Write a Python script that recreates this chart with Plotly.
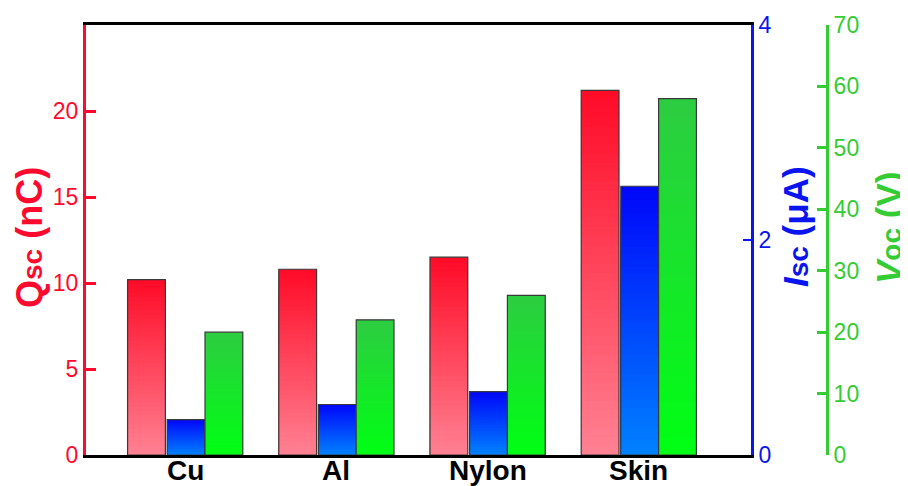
import plotly.graph_objects as go

categories = ["Cu", "Al", "Nylon", "Skin"]
qsc_nC = [10.2, 10.8, 11.5, 21.2]
isc_uA = [0.33, 0.47, 0.59, 2.50]
voc_V = [20.0, 22.0, 26.0, 58.0]

RED = "#FF0A2E"
BLUE = "#0A14F0"
GREEN = "#33CC33"
FONT = "Liberation Sans, Arial, sans-serif"

x = list(range(len(categories)))
W = 0.25
N = 40

series = [
    (qsc_nC, "y", -1.5 * W - 0.006, (255, 128, 145), (255, 12, 40)),
    (isc_uA, "y2", -0.5 * W + 0.006, (0, 128, 255), (0, 8, 250)),
    (voc_V, "y3", 0.5 * W + 0.006, (0, 255, 20), (45, 205, 65)),
]

fig = go.Figure()
for vals, ax, off, cb, ct in series:
    # nested bars: tallest first (top colour), shorter ones on top (towards bottom colour)
    for k in range(N):
        t = (N - 1 - k) / (N - 1)
        c = tuple(round(cb[i] + (ct[i] - cb[i]) * t) for i in range(3))
        fig.add_trace(go.Bar(
            x=x, y=[v * (N - k) / N for v in vals],
            yaxis=ax, width=W, offset=off,
            marker=dict(color="rgb(%d,%d,%d)" % c, line=dict(width=0)),
            showlegend=False, hoverinfo="skip"))
    fig.add_trace(go.Bar(
        x=x, y=vals, yaxis=ax, width=W, offset=off,
        marker=dict(color="rgba(0,0,0,0)", line=dict(color="#3a3a3a", width=1.2)),
        showlegend=False, hoverinfo="skip"))

# page offset compensation (body margin)
OFF = 8
PL, PT, PW, PH = 86 - OFF, 25 - OFF, 741, 430
FW, FH = 908 - OFF, 486 - OFF

def px(sx):
    return (sx - OFF - PL) / PW

def py(sy):
    return (PT + PH - (sy - OFF)) / PH

SUB = "<span style='font-size:28px'>%s</span>"
annotations = [
    dict(text="Q" + SUB % "sc" + " (nC)", x=px(30), y=py(237), xref="paper", yref="paper",
         textangle=-90, showarrow=False, xanchor="center", yanchor="middle",
         font=dict(size=36, color=RED, family=FONT, weight="bold")),
    dict(text="<i>I</i>" + SUB % "sc" + " (μA)", x=px(795), y=py(227), xref="paper", yref="paper",
         textangle=-90, showarrow=False, xanchor="center", yanchor="middle",
         font=dict(size=35, color=BLUE, family=FONT, weight="bold")),
    dict(text="<i>V</i>" + SUB % "oc" + " (V)", x=px(888), y=py(228), xref="paper", yref="paper",
         textangle=-90, showarrow=False, xanchor="center", yanchor="middle",
         font=dict(size=35, color=GREEN, family=FONT, weight="bold")),
]
for i, cat in enumerate(categories):
    annotations.append(dict(text=cat, x=i, y=0, xref="x", yref="paper", yanchor="top",
                            xanchor="center", showarrow=False, yshift=1, borderpad=0,
                            font=dict(size=28, color="black", family=FONT, weight="bold")))

fig.update_layout(
    width=FW, height=FH,
    margin=dict(l=PL, r=FW - PL - PW, t=PT, b=FH - PT - PH),
    paper_bgcolor="white", plot_bgcolor="white",
    barmode="overlay",
    font=dict(family=FONT),
    xaxis=dict(domain=[0, 665 / 741], range=[-0.656, 3.742], automargin=False,
               tickvals=x, showticklabels=False, showgrid=False, zeroline=False,
               showline=True, linecolor="black", linewidth=3, mirror=True, ticks=""),
    yaxis=dict(range=[0, 25], tickvals=[0, 5, 10, 15, 20], showgrid=False, zeroline=False,
               automargin=False,
               showline=True, linecolor=RED, linewidth=3, ticks="inside", ticklen=10,
               tickwidth=2.5, tickcolor=RED, tickfont=dict(size=23, color=RED)),
    yaxis2=dict(range=[0, 4], tickvals=[0, 2, 4], overlaying="y", side="right", anchor="x",
                automargin=False,
                showgrid=False, zeroline=False, showline=True, linecolor=BLUE, linewidth=3,
                ticks="inside", ticklen=8, tickwidth=2, tickcolor=BLUE,
                tickfont=dict(size=23, color=BLUE)),
    yaxis3=dict(range=[0, 70], dtick=10, overlaying="y", side="right", anchor="free",
                position=1.0, showgrid=False, zeroline=False, showline=True, automargin=False,
                linecolor=GREEN, linewidth=3, ticks="inside", ticklen=9, tickwidth=2.5,
                tickcolor=GREEN, tickfont=dict(size=23, color=GREEN)),
    annotations=annotations,
)

fig.write_html("out.html")
